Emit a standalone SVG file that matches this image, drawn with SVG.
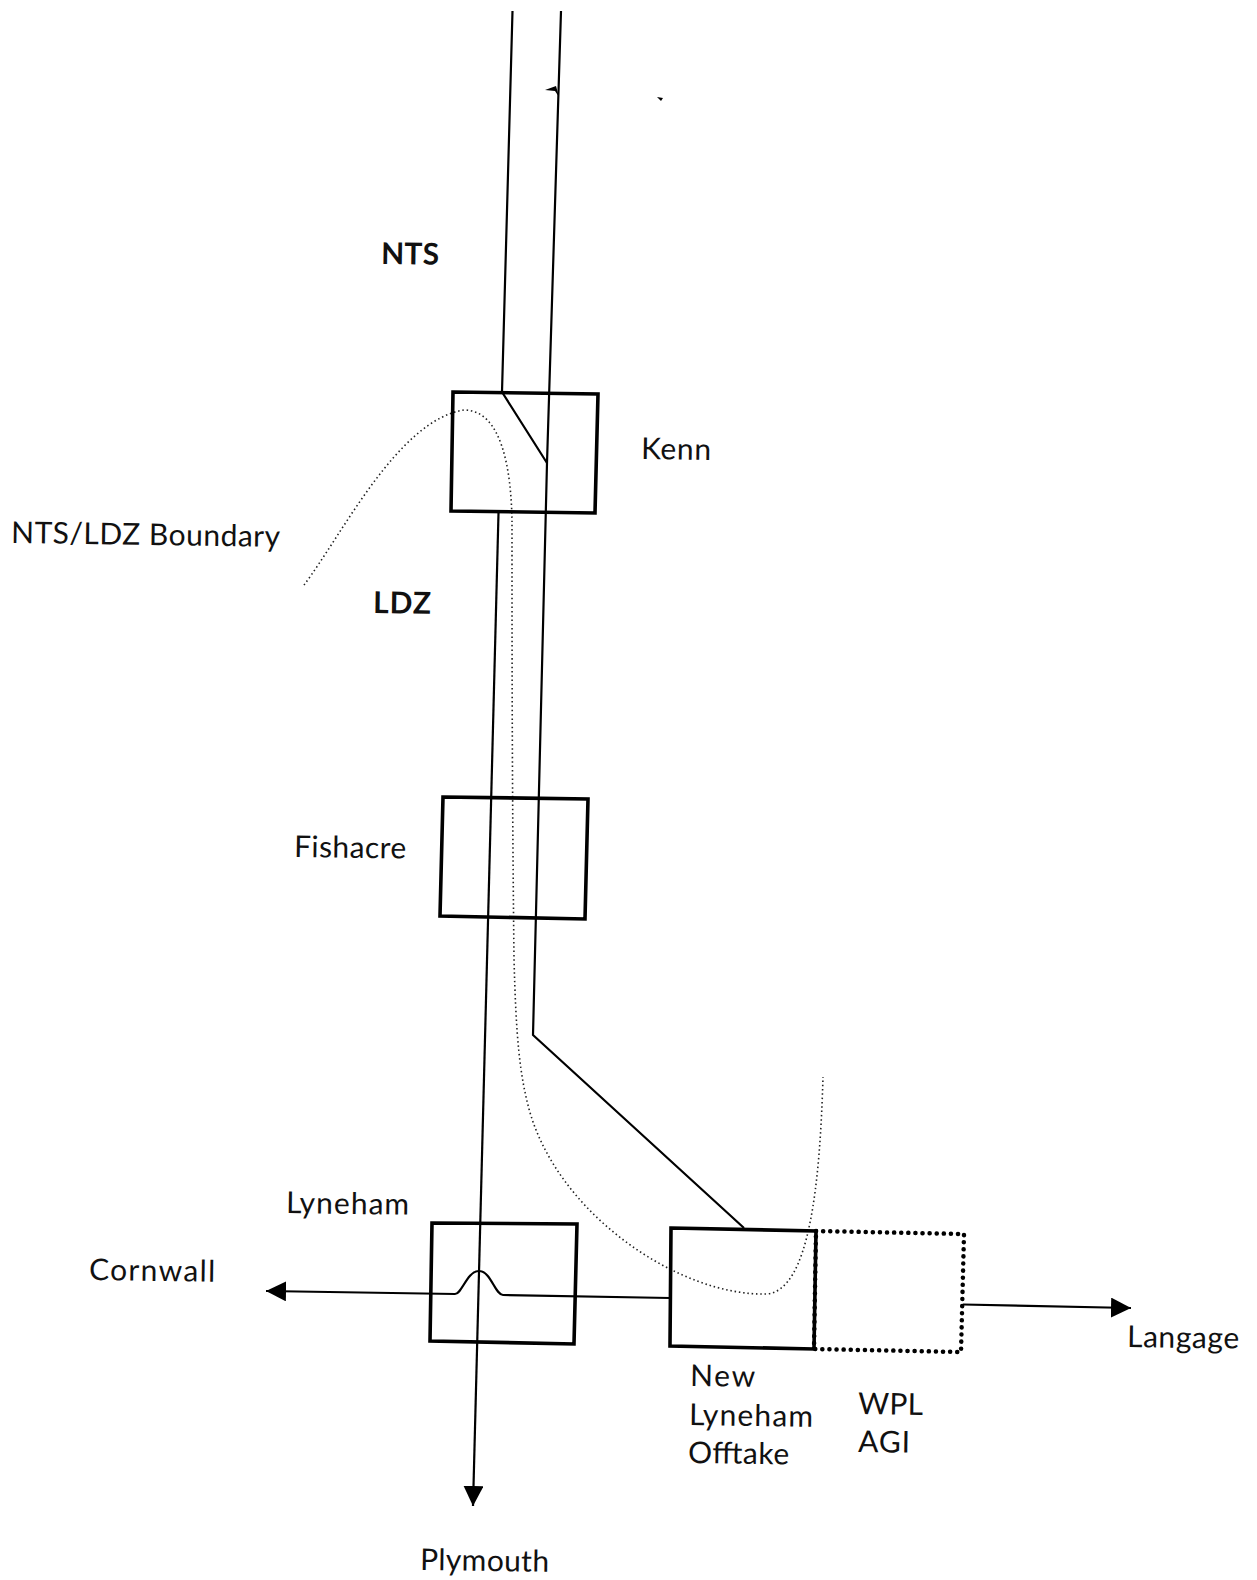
<svg xmlns="http://www.w3.org/2000/svg" width="1257" height="1580" viewBox="0 0 1257 1580">
<style>
text{font-family:"Lato","Open Sans","Liberation Sans",sans-serif;font-size:30px;fill:#111}
.b{font-weight:700}
.box{fill:none;stroke:#000;stroke-width:3.6;stroke-linejoin:miter}
.wpl{fill:none;stroke:#000;stroke-width:4.5;stroke-linecap:round;stroke-dasharray:.1 7}
.pipe{fill:none;stroke:#000;stroke-width:2.2;stroke-linejoin:round}
.bound{fill:none;stroke:#222;stroke-width:1.6;stroke-dasharray:1.5 2.8}
</style>
<defs>
<marker id="arr" markerUnits="userSpaceOnUse" markerWidth="22" markerHeight="22" refX="20" refY="10" orient="auto"><path d="M0 0L20 10L0 20Z" fill="#000"/></marker>
</defs>
<rect width="1257" height="1580" fill="#fff"/>
<g id="connectors">
<path class="pipe" d="M512.500 11L502 392L547 463"/>
<path class="pipe" d="M561 11L547 463L533 1035L744 1228"/>
<path class="pipe" d="M498.500 513L473 1506" marker-end="url(#arr)"/>
<path class="pipe" d="M670 1298L503 1295C495 1295 491 1271 479 1271C467 1271 462 1294 455 1294L266 1291" marker-end="url(#arr)"/>
<path class="pipe" d="M963 1304.500L1131 1308" marker-end="url(#arr)"/>
<path class="bound" d="M304 585C342 535 398 420 464 410C502 410 511 470 512 520C512 640 512 780 514 958C516 1040 520 1075 529 1109C558 1215 680 1296 766 1294C810 1292 820 1180 823 1077"/>
<path d="M545 90L556 86L559 97L555 91ZM657 97L663 98L661 101Z" fill="#000"/>
</g>
<g id="kenn"><path class="box" d="M453 392L598 394L595 513L451 511Z"/><text transform="translate(641 459) rotate(.8)" textLength="70">Kenn</text></g>
<g id="fishacre"><path class="box" d="M443 797L588 799L585 919L440 916Z"/><text transform="translate(294 857) rotate(.8)" textLength="112">Fishacre</text></g>
<g id="lyneham"><path class="box" d="M432 1223L577 1224L574 1344L430 1341Z"/><text transform="translate(286 1213) rotate(.8)" textLength="123">Lyneham</text></g>
<g id="new-lyneham"><path class="box" d="M671 1228L816 1231L814 1349L670 1346Z"/>
<text transform="translate(690 1386) rotate(.8)" textLength="65">New</text><text transform="translate(689 1425) rotate(.8)" textLength="124">Lyneham</text><text transform="translate(688 1463) rotate(.8)" textLength="101">Offtake</text></g>
<g id="wpl-agi"><path class="wpl" d="M816 1231L964 1234L961 1352L814 1349Z"/>
<text transform="translate(858 1414) rotate(.8)" textLength="65">WPL</text><text transform="translate(858 1452) rotate(.8)" textLength="52">AGI</text></g>
<g id="labels">
<text class="b" transform="translate(381 264) rotate(.8)" textLength="58">NTS</text>
<text class="b" transform="translate(373 613) rotate(.8)" textLength="58">LDZ</text>
<text transform="translate(11 543) rotate(.8)" textLength="269">NTS/LDZ Boundary</text>
<text transform="translate(89 1280) rotate(.8)" textLength="126">Cornwall</text>
<text transform="translate(1127 1347) rotate(.8)" textLength="112">Langage</text>
<text transform="translate(420 1570) rotate(.8)" textLength="129">Plymouth</text>
</g>
</svg>
